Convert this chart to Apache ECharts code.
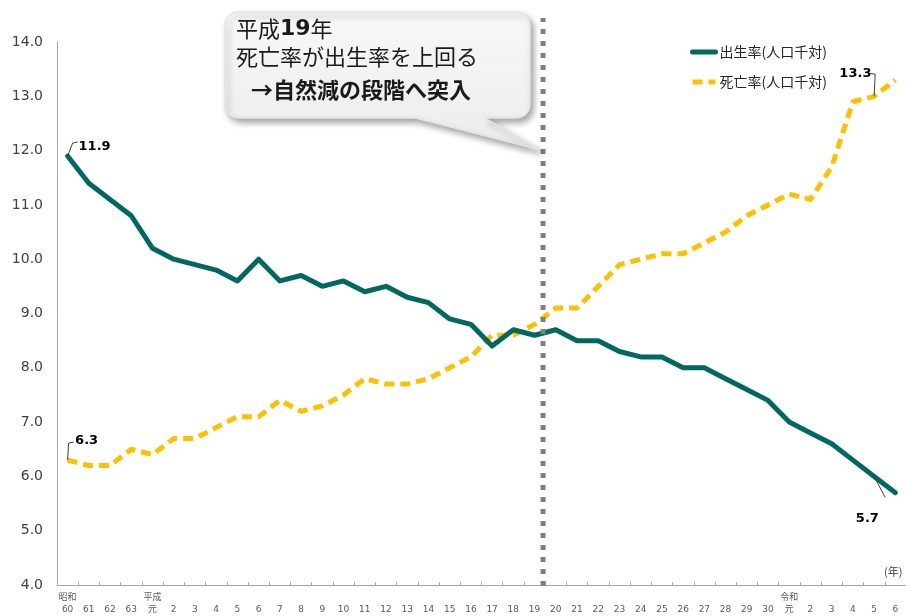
<!DOCTYPE html>
<html>
<head>
<meta charset="utf-8">
<script src="https://cdn.jsdelivr.net/npm/echarts@6/dist/echarts.min.js"></script>
<style>
  html, body { margin: 0; padding: 0; background: #fff; }
  #chart { width: 906px; height: 616px; }
</style>
</head>
<body>
<div id="chart"></div>
<script>
// 年次（和暦）
const categories = [
  '昭和60', '昭和61', '昭和62', '昭和63',
  '平成元', '平成2', '平成3', '平成4', '平成5', '平成6', '平成7', '平成8', '平成9', '平成10',
  '平成11', '平成12', '平成13', '平成14', '平成15', '平成16', '平成17', '平成18', '平成19', '平成20',
  '平成21', '平成22', '平成23', '平成24', '平成25', '平成26', '平成27', '平成28', '平成29', '平成30',
  '令和元', '令和2', '令和3', '令和4', '令和5', '令和6'
];
const tickLabels = [
  '昭和\n60', '\n61', '\n62', '\n63',
  '平成\n元', '\n2', '\n3', '\n4', '\n5', '\n6', '\n7', '\n8', '\n9', '\n10',
  '\n11', '\n12', '\n13', '\n14', '\n15', '\n16', '\n17', '\n18', '\n19', '\n20',
  '\n21', '\n22', '\n23', '\n24', '\n25', '\n26', '\n27', '\n28', '\n29', '\n30',
  '令和\n元', '\n2', '\n3', '\n4', '\n5', '\n6'
];
// 出生率(人口千対)
const birthRate = [
  11.9, 11.4, 11.1, 10.8,
  10.2, 10.0, 9.9, 9.8, 9.6, 10.0, 9.6, 9.7, 9.5, 9.6,
  9.4, 9.5, 9.3, 9.2, 8.9, 8.8, 8.4, 8.7, 8.6, 8.7,
  8.5, 8.5, 8.3, 8.2, 8.2, 8.0, 8.0, 7.8, 7.6, 7.4,
  7.0, 6.8, 6.6, 6.3, 6.0, 5.7
];
// 死亡率(人口千対)
const deathRate = [
  6.3, 6.2, 6.2, 6.5,
  6.4, 6.7, 6.7, 6.9, 7.1, 7.1, 7.4, 7.2, 7.3, 7.5,
  7.8, 7.7, 7.7, 7.8, 8.0, 8.2, 8.6, 8.6, 8.8, 9.1,
  9.1, 9.5, 9.9, 10.0, 10.1, 10.1, 10.3, 10.5, 10.8, 11.0,
  11.2, 11.1, 11.7, 12.9, 13.0, 13.3
];
// 平成19年と20年の間の区切り線（位置はカテゴリ番号）
const crossPos = 22.4;

const BIRTH_COLOR = '#00695f';
const DEATH_COLOR = '#ffc000';
const NUM_FONT = "'DejaVu Sans', 'Noto Sans CJK JP', sans-serif";
const JP_FONT = "'Noto Sans CJK JP', sans-serif";

// ラベルのずらし量 [dx, dy]
const labelShift = {
  '0-0': [27, 2],
  '0-39': [-28, 37],
  '1-0': [19, -8],
  '1-39': [-40, 5]
};
// 引出線: [系列, 付け根のデータ番号, 折れ点(px)]
const leaders = [
  [0, 0, [[5, -13], [10, -14]]],
  [1, 0, [[1, -17], [6, -18]]],
  [1, 38, [[1, -22], [-4, -23]]],
  [0, 38, [[11, 21]]]
];

function withEndLabels(values) {
  return values.map((v, i) => {
    if (i === 0 || i === values.length - 1) {
      return { value: v, label: { show: true } };
    }
    return v;
  });
}

// 吹き出しの形（角丸＋しっぽ）
function balloonPoints(x0, y0, x1, y1, r, tail) {
  const pts = [];
  const arc = (cx, cy, a0, a1) => {
    for (let k = 0; k <= 6; k++) {
      const a = a0 + (a1 - a0) * k / 6;
      pts.push([cx + r * Math.cos(a), cy + r * Math.sin(a)]);
    }
  };
  arc(x0 + r, y0 + r, Math.PI, Math.PI * 1.5);
  arc(x1 - r, y0 + r, Math.PI * 1.5, Math.PI * 2);
  arc(x1 - r, y1 - r, 0, Math.PI * 0.5);
  pts.push([tail[0], y1], [tail[1], tail[2]], [tail[3], y1]);
  arc(x0 + r, y1 - r, Math.PI * 0.5, Math.PI);
  return pts;
}

const chart = echarts.init(document.getElementById('chart'));

const labelStyle = {
  show: false,
  position: 'top',
  color: '#000',
  fontFamily: NUM_FONT,
  fontWeight: 'bold',
  fontSize: 13,
  formatter: p => p.value.toFixed(1)
};
const shiftLabel = p => {
  const s = labelShift[p.seriesIndex + '-' + p.dataIndex] || [0, 0];
  return { dx: s[0], dy: s[1] };
};

const option = {
  animation: false,
  backgroundColor: '#fff',
  grid: [
    { left: 57, right: -7, top: 42, bottom: 30 },
    { left: 57, right: -7, top: 18, bottom: 30 }
  ],
  legend: {
    data: ['出生率(人口千対)', '死亡率(人口千対)'],
    orient: 'vertical',
    left: 685,
    top: 40,
    itemWidth: 23,
    itemHeight: 14,
    itemGap: 16,
    itemStyle: { opacity: 0 },
    lineStyle: { width: 5 },
    textStyle: { fontFamily: JP_FONT, fontSize: 14, color: '#262626', padding: [0, 0, 0, -1] }
  },
  xAxis: [
    {
      type: 'category',
      gridIndex: 0,
      data: categories,
      boundaryGap: true,
      axisLine: { lineStyle: { color: '#a6a6a6', width: 1 } },
      axisTick: { show: true, inside: true, length: 3, lineStyle: { color: '#a6a6a6' } },
      axisLabel: {
        interval: 0,
        margin: 7,
        fontSize: 9,
        lineHeight: 12,
        color: '#595959',
        fontFamily: NUM_FONT,
        formatter: (v, i) => tickLabels[i]
      },
      splitLine: { show: false }
    },
    {
      type: 'value',
      gridIndex: 1,
      min: -0.5,
      max: categories.length - 0.5,
      show: false
    }
  ],
  yAxis: [
    {
      type: 'value',
      gridIndex: 0,
      min: 4,
      max: 14,
      interval: 1,
      axisLine: { show: true, lineStyle: { color: '#a6a6a6', width: 1 } },
      axisTick: { show: false },
      splitLine: { show: false },
      axisLabel: {
        margin: 14,
        fontSize: 14,
        color: '#404040',
        fontFamily: NUM_FONT,
        formatter: v => v.toFixed(1)
      }
    },
    {
      type: 'value',
      gridIndex: 1,
      min: 0,
      max: 1,
      show: false
    }
  ],
  series: [
    {
      name: '出生率(人口千対)',
      type: 'line',
      data: withEndLabels(birthRate),
      symbol: 'circle',
      symbolSize: 0,
      showSymbol: true,
      z: 4,
      lineStyle: { color: BIRTH_COLOR, width: 5, cap: 'round', join: 'round' },
      itemStyle: { color: BIRTH_COLOR },
      label: labelStyle,
      labelLayout: shiftLabel
    },
    {
      name: '死亡率(人口千対)',
      type: 'line',
      data: withEndLabels(deathRate),
      symbol: 'circle',
      symbolSize: 0,
      showSymbol: true,
      z: 3,
      lineStyle: { color: DEATH_COLOR, width: 5, type: [10, 6], join: 'round' },
      itemStyle: { color: DEATH_COLOR },
      label: labelStyle,
      labelLayout: shiftLabel
    },
    {
      name: 'divider',
      type: 'line',
      xAxisIndex: 1,
      yAxisIndex: 1,
      data: [[crossPos, 0], [crossPos, 1]],
      symbol: 'none',
      silent: true,
      z: 5,
      lineStyle: { color: '#7f7f7f', width: 5, type: [5, 7] }
    }
  ],
  graphic: [
    {
      type: 'polygon',
      z: 100,
      shape: { points: balloonPoints(225, 12, 530, 118, 13, [485, 540, 150, 415]) },
      style: {
        fill: new echarts.graphic.LinearGradient(0, 0, 0, 1, [
          { offset: 0, color: '#f8f8f8' },
          { offset: 1, color: '#ececec' }
        ]),
        stroke: '#e4e4e4',
        lineWidth: 1,
        shadowBlur: 6,
        shadowOffsetX: 3,
        shadowOffsetY: 4,
        shadowColor: 'rgba(0,0,0,0.35)'
      }
    },
    {
      type: 'text',
      z: 101,
      left: 236,
      top: 18,
      style: {
        text: '平成{b|19}年',
        font: "22px 'Noto Sans CJK JP'",
        fill: '#1a1a1a',
        rich: {
          b: { fontSize: 22, fontWeight: 'bold', fontFamily: NUM_FONT, fill: '#1a1a1a' }
        }
      }
    },
    {
      type: 'text',
      z: 101,
      left: 236,
      top: 46,
      style: {
        text: '死亡率が出生率を上回る',
        font: "22px 'Noto Sans CJK JP'",
        fill: '#1a1a1a'
      }
    },
    {
      type: 'text',
      z: 101,
      left: 251,
      top: 79,
      style: {
        text: '→自然減の段階へ突入',
        font: "bold 22px 'Noto Sans CJK JP'",
        fill: '#1a1a1a'
      }
    },
    {
      type: 'text',
      left: 884,
      top: 566,
      style: {
        text: '(年)',
        font: "11px 'Noto Sans CJK JP'",
        fill: '#404040'
      }
    }
  ]
};

chart.setOption(option);

// 引出線はデータ点の位置から描く
const seriesData = [birthRate, deathRate];
const leaderLines = leaders.map(([si, di, bends]) => {
  const p = chart.convertToPixel({ xAxisIndex: 0, yAxisIndex: 0 }, [di, seriesData[si][di]]);
  return {
    type: 'polyline',
    z: 50,
    shape: { points: [p].concat(bends.map(b => [p[0] + b[0], p[1] + b[1]])) },
    style: { stroke: '#404040', lineWidth: 1, fill: null }
  };
});
chart.setOption({ graphic: option.graphic.concat(leaderLines) });
</script>
</body>
</html>
